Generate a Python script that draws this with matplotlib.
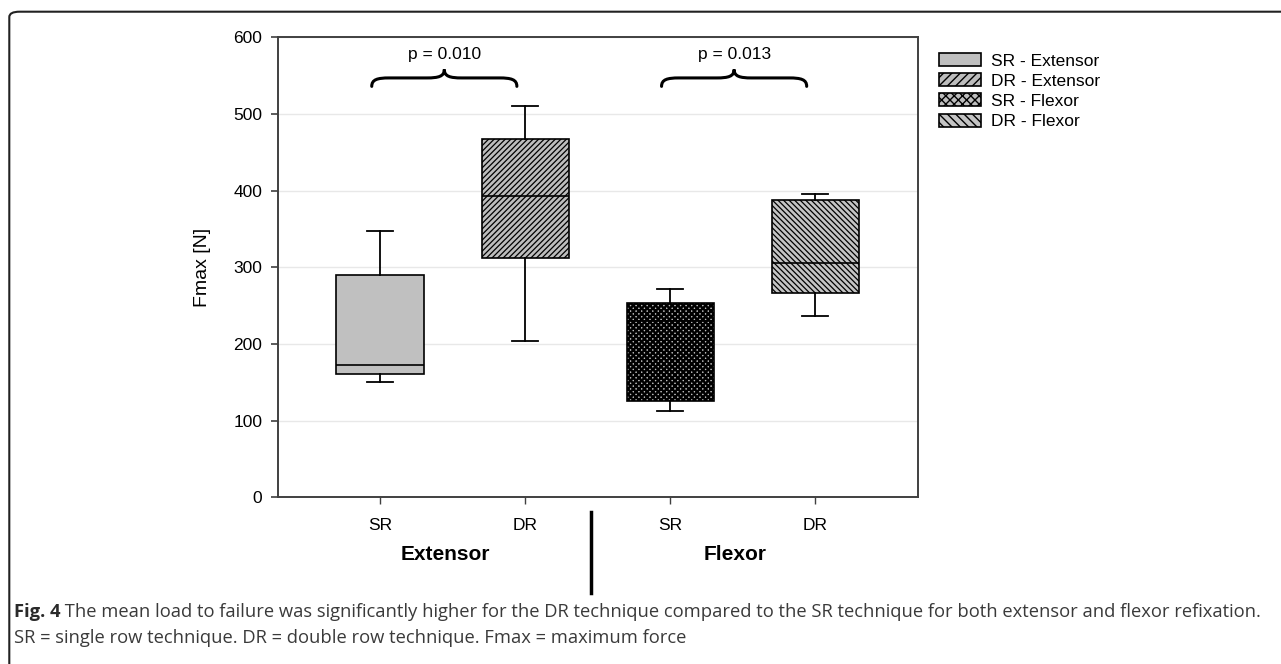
import matplotlib
matplotlib.use("Agg")
import matplotlib.pyplot as plt
from matplotlib.path import Path
from matplotlib.patches import PathPatch, FancyBboxPatch, Patch
from matplotlib.lines import Line2D

# ---------------- data ----------------
series_labels = ["SR - Extensor", "DR - Extensor", "SR - Flexor", "DR - Flexor"]
tick_labels = ["SR", "DR", "SR", "DR"]
group_labels = ["Extensor", "Flexor"]
whisker_low = [151, 204, 113, 236]
q1_values = [161, 312, 125, 266]
medians = [173, 393, 230, 306]
q3_values = [290, 468, 254, 388]
whisker_high = [348, 511, 272, 396]
p_labels = ["p = 0.010", "p = 0.013"]
y_ticks = [0, 100, 200, 300, 400, 500, 600]
y_label = "Fmax [N]"
caption_bold = "Fig. 4"
caption_line1 = (" The mean load to failure was significantly higher for the DR technique "
                 "compared to the SR technique for both extensor and flexor refixation.")
caption_line2 = "SR = single row technique. DR = double row technique. Fmax = maximum force"

# ---------------- styles ----------------
fills = ["#c0c0c0", "#bdbdbd", "#bdbdbd", "#c4c4c4"]
hatches = [None, "//////", "xxxxxx", "\\\\\\\\\\\\"]
legend_hatches = [None, "////", "xxxx", "\\\\\\\\"]
hatch_lws = [1.0, 0.9, 1.7, 0.9]

plt.rcParams["font.family"] = ["Liberation Sans", "DejaVu Sans"]
W, H = 1281, 664
fig = plt.figure(figsize=(W / 100, H / 100), dpi=100)
ax = fig.add_axes([277.7 / W, 1 - 497.3 / H, (917.7 - 277.7) / W, (497.3 - 37.3) / H])

positions = [1, 2, 3, 4]
stats = []
for i in range(len(series_labels)):
    stats.append(dict(whislo=whisker_low[i], q1=q1_values[i], med=medians[i],
                      q3=q3_values[i], whishi=whisker_high[i], label=tick_labels[i]))

bp = ax.bxp(stats, positions=positions, widths=0.6, patch_artist=True, showfliers=False,
            capwidths=0.18,
            boxprops=dict(linewidth=1.2, edgecolor="black"),
            medianprops=dict(color="black", linewidth=1.2),
            whiskerprops=dict(color="black", linewidth=1.3),
            capprops=dict(color="black", linewidth=1.3))
for i, box in enumerate(bp["boxes"]):
    box.set_facecolor(fills[i])
    box.set_edgecolor("black")
    if hatches[i]:
        box.set_hatch(hatches[i])
    if hasattr(box, "set_hatch_linewidth"):
        box.set_hatch_linewidth(hatch_lws[i])

ax.set_xlim(0.295, 4.705)
ax.set_ylim(0, 600)
ax.set_yticks(y_ticks)
ax.set_xticks(positions)
ax.set_xticklabels(tick_labels)
ax.tick_params(axis="y", labelsize=12.5, length=5, width=1.2, pad=6, color="#404040")
ax.tick_params(axis="x", labelsize=12.5, length=5, width=1.0, pad=10, color="#404040")
ax.yaxis.grid(True, color="#e8e8e8", linewidth=1.0)
ax.set_axisbelow(True)
for sp in ax.spines.values():
    sp.set_color("#404040")
    sp.set_linewidth(1.4)
ax.set_ylabel(y_label, fontsize=14, labelpad=16)

# group labels
for gx, g in zip([1.45, 3.45], group_labels):
    ax.text(gx, -0.125, g, transform=ax.get_xaxis_transform(), ha="center", va="center",
            fontsize=15, fontweight="bold")

# separator line below axis
fig.add_artist(Line2D([590.7 / W, 590.7 / W], [1 - 511.7 / H, 1 - 593.3 / H],
                      color="black", linewidth=2.5, transform=fig.transFigure))

# braces
def brace(ax, x0, x1, y_end, y_mid, y_tip):
    xc = (x0 + x1) / 2
    d = 0.12
    verts = [
        (x0, y_end), (x0, y_mid - 2), (x0 + 0.04, y_mid), (x0 + d, y_mid),
        (xc - d, y_mid),
        (xc - 0.04, y_mid), (xc, y_mid + 2), (xc, y_tip),
        (xc, y_mid + 2), (xc + 0.04, y_mid), (xc + d, y_mid),
        (x1 - d, y_mid),
        (x1 - 0.04, y_mid), (x1, y_mid - 2), (x1, y_end),
    ]
    codes = [Path.MOVETO, Path.CURVE4, Path.CURVE4, Path.CURVE4,
             Path.LINETO,
             Path.CURVE4, Path.CURVE4, Path.CURVE4,
             Path.CURVE4, Path.CURVE4, Path.CURVE4,
             Path.LINETO,
             Path.CURVE4, Path.CURVE4, Path.CURVE4]
    ax.add_patch(PathPatch(Path(verts, codes), fill=False, lw=2.2, color="black",
                           capstyle="round"))

for (x0, x1), p in zip([(0.943, 1.943), (2.940, 3.940)], p_labels):
    brace(ax, x0, x1, 536, 547, 558)
    ax.text((x0 + x1) / 2, 577, p, ha="center", va="center", fontsize=12.5)

# legend
handles = [Patch(facecolor=fills[i], edgecolor="black", hatch=legend_hatches[i], linewidth=1.2)
           for i in range(len(series_labels))]
leg = fig.legend(handles, series_labels, loc="upper left",
                 bbox_to_anchor=(939 / W, 1 - 53 / H), bbox_transform=fig.transFigure,
                 frameon=False, fontsize=12.5, handlelength=2.4, handleheight=0.77,
                 handletextpad=0.57, labelspacing=0.27, borderaxespad=0, borderpad=0)

# outer frame
fig.add_artist(FancyBboxPatch((9.3 / W, -0.2), 1.2, 1.2 - 11.7 / H,
                              boxstyle="round,pad=0,rounding_size=0.008",
                              transform=fig.transFigure, fill=False,
                              edgecolor="#222222", linewidth=1.5))

# caption
cap_font = ["Open Sans", "DejaVu Sans"]
cap_size = 13.2
cap_color = "#3a3a3a"
t1 = fig.text(14 / W, 1 - 617 / H, caption_bold, fontsize=cap_size, fontweight="bold",
              family=cap_font, color="#2a2a2a", va="baseline")
fig.canvas.draw()
bb = t1.get_window_extent()
fig.text(bb.x1 / W, 1 - 617 / H, caption_line1, fontsize=cap_size, family=cap_font,
         color=cap_color, va="baseline")
fig.text(14 / W, 1 - 643 / H, caption_line2, fontsize=cap_size, family=cap_font,
         color=cap_color, va="baseline")

fig.savefig("out.png", dpi=100)
